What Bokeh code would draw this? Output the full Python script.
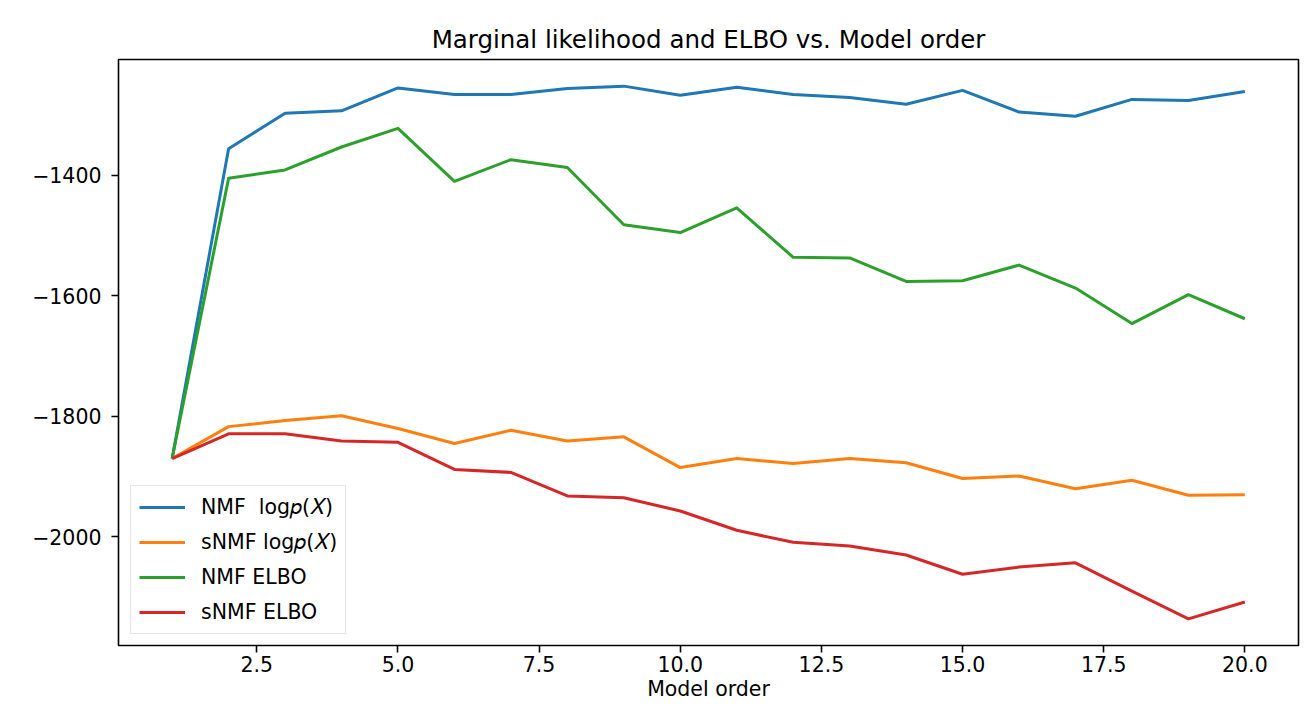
from bokeh.plotting import figure
from bokeh.models import Range1d, FixedTicker, Legend, LegendItem
from bokeh.embed import file_html
from bokeh.resources import INLINE

# ---- data ----
model_order = list(range(1, 21))
nmf_logp = [-1870, -1356, -1297, -1293, -1255, -1266, -1266, -1256, -1252, -1267,
            -1254, -1266, -1271, -1282, -1259, -1295, -1302, -1274, -1276, -1261]
snmf_logp = [-1870, -1817, -1807, -1799, -1820, -1845, -1823, -1841, -1834, -1885,
             -1870, -1878, -1870, -1877, -1903, -1899, -1920, -1906, -1931, -1930]
nmf_elbo = [-1870, -1405, -1391, -1353, -1322, -1410, -1374, -1387, -1482, -1495,
            -1454, -1536, -1537, -1576, -1575, -1549, -1587, -1646, -1598, -1638]
snmf_elbo = [-1870, -1829, -1829, -1841, -1843, -1888, -1893, -1932, -1935, -1957,
             -1989, -2009, -2015, -2030, -2062, -2050, -2043, -2090, -2136, -2108]

series_labels = ["NMF  log\U0001D45D(\U0001D44B)", "sNMF log\U0001D45D(\U0001D44B)", "NMF ELBO", "sNMF ELBO"]
series_colors = ["#1f77b4", "#ff7f0e", "#2ca02c", "#d62728"]

x_ticks = [2.5, 5.0, 7.5, 10.0, 12.5, 15.0, 17.5, 20.0]
x_tick_labels = ["2.5", "5.0", "7.5", "10.0", "12.5", "15.0", "17.5", "20.0"]
y_ticks = [-2000, -1800, -1600, -1400]
y_tick_labels = ["\u22122000", "\u22121800", "\u22121600", "\u22121400"]

title_text = "Marginal likelihood and ELBO vs. Model order"
x_label = "Model order"

# ---- ranges with matplotlib-like 5% margins ----
all_y = nmf_logp + snmf_logp + nmf_elbo + snmf_elbo
ymin, ymax = min(all_y), max(all_y)
ypad = 0.05 * (ymax - ymin)
xmin, xmax = min(model_order), max(model_order)
xpad = 0.05 * (xmax - xmin)

FONT = "DejaVu Sans"

p = figure(width=1308, height=705, output_backend="svg", toolbar_location=None,
           x_range=Range1d(xmin - xpad, xmax + xpad),
           y_range=Range1d(ymin - ypad, ymax + ypad),
           min_border_left=118, min_border_right=10, min_border_top=59, min_border_bottom=60,
           title=title_text)

p.title.text_font = FONT
p.title.text_font_size = "24.5px"
p.title.text_font_style = "normal"
p.title.text_color = "black"
p.title.align = "center"
p.title.standoff = 12

p.grid.visible = False
p.outline_line_color = "black"
p.outline_line_width = 1.6
p.outline_line_alpha = 1.0
p.background_fill_color = "white"
p.border_fill_color = "white"

for ax in (p.xaxis[0], p.yaxis[0]):
    ax.axis_line_color = None
    ax.major_tick_out = 7
    ax.major_tick_in = 0
    ax.major_tick_line_width = 1.6
    ax.major_tick_line_color = "black"
    ax.minor_tick_line_color = None
    ax.major_label_text_font = FONT
    ax.major_label_text_font_size = "20.5px"
    ax.major_label_text_color = "black"

p.xaxis.ticker = FixedTicker(ticks=x_ticks)
p.xaxis.major_label_overrides = dict(zip(x_ticks, x_tick_labels))
p.yaxis.ticker = FixedTicker(ticks=y_ticks)
p.yaxis.major_label_overrides = dict(zip(y_ticks, y_tick_labels))
p.xaxis.major_label_standoff = 3
p.yaxis.major_label_standoff = 10

p.xaxis.axis_label = x_label
p.xaxis.axis_label_text_font = FONT
p.xaxis.axis_label_text_font_size = "20.5px"
p.xaxis.axis_label_text_font_style = "normal"
p.xaxis.axis_label_text_color = "black"
p.xaxis.axis_label_standoff = 2

items = []
for ys, lab, col in zip([nmf_logp, snmf_logp, nmf_elbo, snmf_elbo], series_labels, series_colors):
    r = p.line(model_order, ys, line_width=3, color=col, line_join="round")
    items.append(LegendItem(label=lab, renderers=[r]))

legend = Legend(items=items, location=(12, 11))
legend.label_text_font = FONT
legend.label_text_font_size = "20.5px"
legend.label_text_color = "black"
legend.label_standoff = 16
legend.glyph_width = 46
legend.glyph_height = 26
legend.label_height = 26
legend.spacing = 9
legend.padding = 8
legend.border_line_color = "#cccccc"
legend.border_line_width = 1.5
legend.background_fill_alpha = 0.8
p.add_layout(legend)

open("out.html", "w").write(file_html(p, INLINE))
